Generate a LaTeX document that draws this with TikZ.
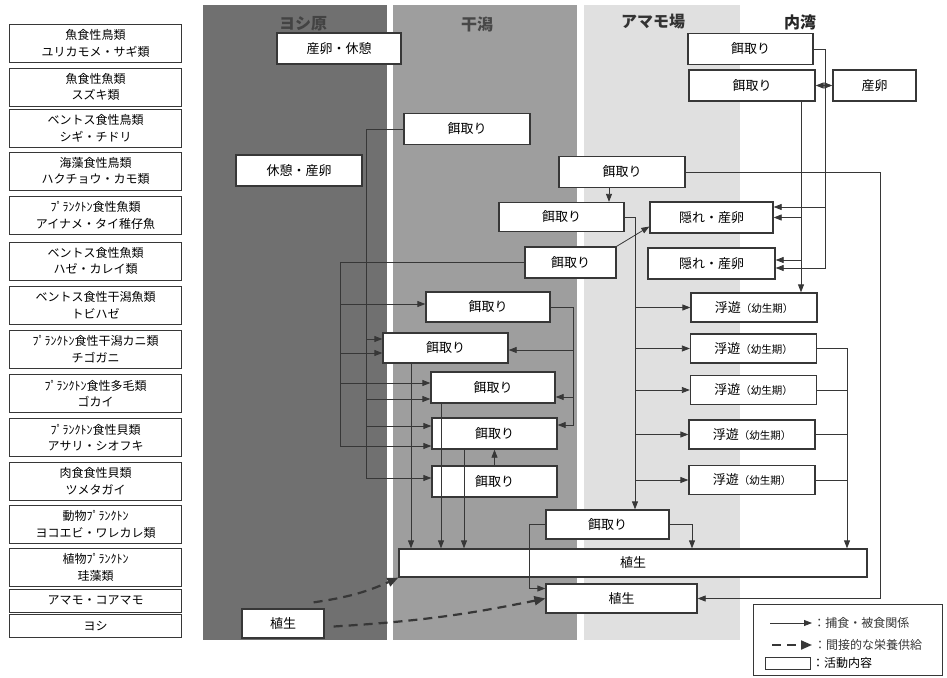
\documentclass[tikz,border=0pt]{standalone}
\usepackage{fontspec}
\setmainfont{Noto Sans CJK JP}
\usetikzlibrary{arrows.meta, calc}
\definecolor{reed}{RGB}{112,112,112}
\definecolor{flat}{RGB}{158,158,158}
\definecolor{eelg}{RGB}{224,224,224}
\definecolor{coal}{RGB}{55,55,55}

\begin{document}
\begin{tikzpicture}[x=1pt,y=-1pt,
  L/.style={draw=coal,line width=1pt,fill=white,
            minimum width=172pt,minimum height=38pt,inner sep=1pt,
            align=center,font=\fontsize{12}{16.5}\selectfont},
  L1/.style={L,minimum height=23pt},
  A/.style={draw=coal,line width=1.3pt,fill=white,
            minimum width=#1,minimum height=31pt,inner sep=1pt,
            font=\fontsize{13}{15}\selectfont},
  A/.default=125pt,
  P/.style={A=126pt,minimum height=29pt},
  hd/.style={font=\fontsize{16}{16}\selectfont\bfseries},
  ln/.style={coal,line width=0.8pt},
  ar/.style={-{Triangle[length=8pt,width=6pt]},ln},
  arr/.style={{Triangle[length=8pt,width=6pt]}-{Triangle[length=8pt,width=6pt]},ln},
  dar/.style={-{Triangle[length=11pt,width=9pt]},coal,line width=2.2pt,
              dash pattern=on 9pt off 6pt},
  lg/.style={font=\fontsize{12}{14}\selectfont,inner sep=1pt}
]
\useasboundingbox (0,0) rectangle (947,677);

%% band-x: 203 | 393 | 584 | 740
%% bus-x:  340 | 366 | 573 | 635 | 801 | 825 | 847 | 880

% habitat bands
\fill[reed] (203,5) rectangle (387,640);
\fill[flat] (393,5) rectangle (577,640);
\fill[eelg] (584,5) rectangle (740,640);
\node[hd,text=reed!60!black] (hY) at (303,24) {ヨシ原};
\node[hd,text=flat!45!black] (hH) at (477,24) {干潟};
\node[hd,text=black!80]      (hA) at (653,22) {アマモ場};
\node[hd,text=black!85]      (hN) at (800,22) {内湾};

% organisms
\node[L]  (r1)  at (95.5,43.5)  {魚食性鳥類\\ユリカモメ・サギ類};
\node[L]  (r2)  at (95.5,87)    {魚食性魚類\\スズキ類};
\node[L]  (r3)  at (95.5,128.5) {ベントス食性鳥類\\シギ・チドリ};
\node[L]  (r4)  at (95.5,171)   {海藻食性鳥類\\ハクチョウ・カモ類};
\node[L]  (r5)  at (95.5,215.5) {ﾌﾟﾗﾝｸﾄﾝ食性魚類\\アイナメ・タイ稚仔魚};
\node[L]  (r6)  at (95.5,261)   {ベントス食性魚類\\ハゼ・カレイ類};
\node[L]  (r7)  at (95.5,305)   {ベントス食性干潟魚類\\トビハゼ};
\node[L]  (r8)  at (95.5,349)   {ﾌﾟﾗﾝｸﾄﾝ食性干潟カニ類\\チゴガニ};
\node[L]  (r9)  at (95.5,393.5) {ﾌﾟﾗﾝｸﾄﾝ食性多毛類\\ゴカイ};
\node[L]  (r10) at (95.5,437.5) {ﾌﾟﾗﾝｸﾄﾝ食性貝類\\アサリ・シオフキ};
\node[L]  (r11) at (95.5,481)   {肉食食性貝類\\ツメタガイ};
\node[L]  (r12) at (95.5,524.5) {動物ﾌﾟﾗﾝｸﾄﾝ\\ヨコエビ・ワレカレ類};
\node[L]  (r13) at (95.5,567.5) {植物ﾌﾟﾗﾝｸﾄﾝ\\珪藻類};
\node[L1] (r14) at (95.5,600.5) {アマモ・コアマモ};
\node[L1] (r15) at (95.5,626)   {ヨシ};

% reed bed
\node[A=124pt] (Y1) at (339,48.5)  {産卵・休憩};
\node[A=126pt] (Y4) at (299,170.5) {休憩・産卵};
\node[A=82pt,minimum height=29pt] (V15) at (283,623.5) {植生};

% tidal flat
\node[A=126pt] (F3)  at (467,129)   {餌取り};
\node[A=124pt,minimum height=30pt] (F7) at (488,307)   {餌取り};
\node[A,minimum height=30pt]       (F8) at (445.5,348) {餌取り};
\node[A=124pt] (F9)  at (493,387.5) {餌取り};
\node[A]       (F10) at (494.5,433.5) {餌取り};
\node[A]       (F11) at (494.5,481.5) {餌取り};

% eelgrass bed
\node[A=126pt] (F4)  at (622,172)   {餌取り};
\node[A,minimum height=29pt] (F5) at (561.5,217) {餌取り};
\node[A=91pt]  (F6)  at (570.5,262.5) {餌取り};
\node[A=123pt] (H5)  at (711.5,217.5) {隠れ・産卵};
\node[A=127pt] (H6)  at (711.5,263.5) {隠れ・産卵};
\node[A=123pt,minimum height=29pt] (F12) at (607.5,524.5) {餌取り};
\node[A=151pt,minimum height=29pt] (V14) at (621.5,598.5) {植生};

% inner bay
\node[A]      (B1) at (750.5,49)   {餌取り};
\node[A=126pt] (B2) at (752,85.5)  {餌取り};
\node[A=83pt] (S2) at (874.5,85.5) {産卵};
\node[P] (P7)  at (754,307.5)   {浮遊{\fontsize{10.5}{12}\selectfont （幼生期）}};
\node[P] (P8)  at (753.5,348.5) {浮遊{\fontsize{10.5}{12}\selectfont （幼生期）}};
\node[P] (P9)  at (753.5,390)   {浮遊{\fontsize{10.5}{12}\selectfont （幼生期）}};
\node[P] (P10) at (752,434.5)   {浮遊{\fontsize{10.5}{12}\selectfont （幼生期）}};
\node[P] (P11) at (752,480)     {浮遊{\fontsize{10.5}{12}\selectfont （幼生期）}};
\node[A=468pt,minimum height=28pt] (V13) at (633,563) {植生};

% bus taps
\coordinate (b8)  at (366,339);
\coordinate (b9)  at (366,399);
\coordinate (b10) at (366,426);
\coordinate (b11) at (366,478);
\coordinate (h7)  at (340,304);
\coordinate (h8)  at (340,353);
\coordinate (h9)  at (340,383);
\coordinate (h10) at (340,446);
\coordinate (t8)  at (573,350);
\coordinate (t9)  at (573,397);
\coordinate (t10) at (573,425);
\coordinate (xP)  at (635,0);
\coordinate (xS)  at (801,0);
\coordinate (s6)  at (801,260);
\coordinate (g5)  at (825,207);
\coordinate (g6)  at (825,268);
\coordinate (xL)  at (847,0);
\coordinate (xK)  at (880,0);
\coordinate (c45) at (609,0);
\coordinate (c12) at (692,0);
\coordinate (d8)  at (411,0);
\coordinate (d9)  at (441,0);
\coordinate (d10) at (464,0);

% shorebirds -> benthos
\draw[ar] (F3.west) -| (b11) -- (b11 -| F11.west);
\draw[ar] (b8)  -- (b8 -| F8.west);
\draw[ar] (b9)  -- (b9 -| F9.west);
\draw[ar] (b10) -- (b10 -| F10.west);

% gobies, flatfish -> benthos
\draw[ar] (F6.west) -| (h10) -- (h10 -| F10.west);
\draw[ar] (h7) -- (h7 -| F7.west);
\draw[ar] (h8) -- (h8 -| F8.west);
\draw[ar] (h9) -- (h9 -| F9.west);

% mudskipper
\draw[ar] (F7.east) -| (t10) -- (t10 -| F10.east);
\draw[ar] (t8) -- (t8 -| F8.east);
\draw[ar] (t9) -- (t9 -| F9.east);

% benthos -> diatoms
\draw[ar] (d8 |- F8.south)  -- (d8 |- V13.north);
\draw[ar] (d9 |- F9.south)  -- (d9 |- V13.north);
\draw[ar] (d10 |- F10.south) -- (d10 |- V13.north);
\draw[ar] (F11.north) -- (F10.south);

% juvenile fish -> larvae, zooplankton
\draw[ar] (c45 |- F4.south) -- (c45 |- F5.north);
\draw[ar] (F5.east) -| (xP |- F12.north);
\draw[ar] (xP |- P7.west)  -- (P7.west);
\draw[ar] (xP |- P8.west)  -- (P8.west);
\draw[ar] (xP |- P9.west)  -- (P9.west);
\draw[ar] (xP |- P10.west) -- (P10.west);
\draw[ar] (xP |- P11.west) -- (P11.west);
\draw[ar] (F6.north east) -- ($(H5.west)+(0,9)$);

% zooplankton
\draw[ar] (F12.west) -- ++(-16,0) |- ($(V14.west)+(0,-10)$);
\draw[ar] (F12.east) -| (c12 |- V13.north);

% inner bay
\draw[ar] (B1.east) -| (g6) -- (g6 -| H6.east);
\draw[ar] (g5) -- (g5 -| H5.east);
\draw[ar] (xS |- B2.south) -- (xS |- P7.north);
\draw[ar] (xS |- H5.east) -- (H5.east);
\draw[ar] (s6) -- (s6 -| H6.east);
\draw[arr] (B2.east) -- (S2.west);

% larvae -> diatoms
\draw[ar] (P8.east) -| (xL |- V13.north);
\draw[ln] (P9.east)  -- (xL |- P9.east);
\draw[ln] (P10.east) -- (xL |- P10.east);
\draw[ln] (P11.east) -- (xL |- P11.east);

% waterfowl -> eelgrass
\draw[ar] (F4.east) -| (xK |- V14.east) -- (V14.east);

% reed: indirect supply
\draw[dar] ($(V15.north east)+(-11,-6)$) to[bend right=8] (V13.south west);
\draw[dar] ($(V15.east)+(9,3)$) to[bend right=4] (V14.west);

% legend
\node[draw=coal,line width=1pt,minimum width=189pt,minimum height=71pt]
      (leg) at (847.5,639.5) {};
\coordinate (l1) at (770,623);
\coordinate (l2) at (772,645);
\draw[ar] (l1) -- ++(42,0) node[right,lg] (lt1) {：捕食・被食関係};
\draw[dar,line width=2pt] (l2) -- ++(40,0) node[right,lg] (lt2) {：間接的な栄養供給};
\node[draw=coal,line width=0.8pt,minimum width=45pt,minimum height=12pt,
      inner sep=0pt] (l3) at (788,663) {};
\node[right,lg] (lt3) at (l3.east) {：活動内容};

\end{tikzpicture}
\end{document}
